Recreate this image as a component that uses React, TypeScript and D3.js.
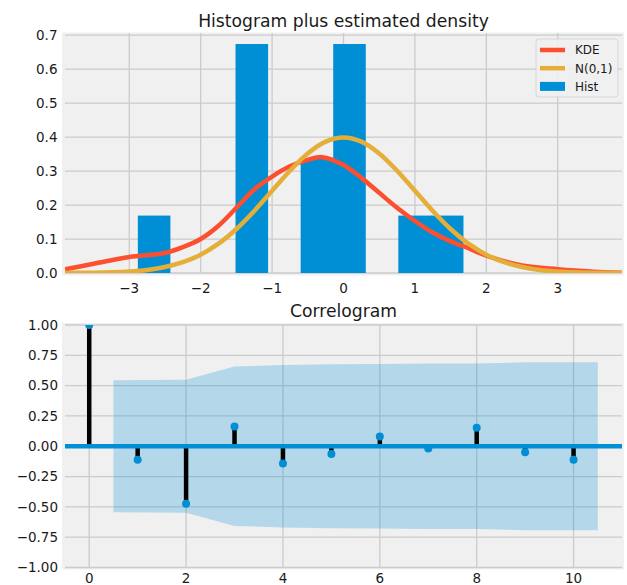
import React from "react";
import * as d3 from "d3";

// ---------- data ----------
const histEdges = [-2.88, -2.424, -1.968, -1.512, -1.056, -0.6, -0.144, 0.312, 0.768, 1.224, 1.68];
const histDensity = [0.169, 0, 0, 0.674, 0, 0.337, 0.674, 0, 0.169, 0.169];

const kdeX = [-3.9, -3.5, -3.0, -2.5, -2.25, -2.0, -1.75, -1.5, -1.25, -1.0, -0.75, -0.5, -0.3, 0.0, 0.25, 0.5, 0.75, 1.0, 1.25, 1.5, 1.75, 2.0, 2.5, 3.0, 3.5, 3.9];
const kdeY = [0.011, 0.027, 0.047, 0.059, 0.076, 0.1, 0.139, 0.192, 0.246, 0.284, 0.314, 0.333, 0.341, 0.318, 0.28, 0.236, 0.192, 0.153, 0.119, 0.093, 0.073, 0.051, 0.022, 0.011, 0.004, 0.001];

const normX = [-4, -3.75, -3.5, -3.25, -3, -2.75, -2.5, -2.25, -2, -1.75, -1.5, -1.25, -1, -0.75, -0.5, -0.25, 0, 0.25, 0.5, 0.75, 1, 1.25, 1.5, 1.75, 2, 2.25, 2.5, 2.75, 3, 3.25, 3.5, 3.75, 4];
const normY = [0.0001, 0.0004, 0.0009, 0.002, 0.0044, 0.0091, 0.0175, 0.0317, 0.054, 0.0863, 0.1295, 0.1826, 0.242, 0.3011, 0.3521, 0.3867, 0.3989, 0.3867, 0.3521, 0.3011, 0.242, 0.1826, 0.1295, 0.0863, 0.054, 0.0317, 0.0175, 0.0091, 0.0044, 0.002, 0.0009, 0.0004, 0.0001];

const legendLabels = ["KDE", "N(0,1)", "Hist"];

const topXTicks = [-3, -2, -1, 0, 1, 2, 3];
const topYTicks = [0, 0.1, 0.2, 0.3, 0.4, 0.5, 0.6, 0.7];

const lags = [0, 1, 2, 3, 4, 5, 6, 7, 8, 9, 10];
const acfValues = [1.0, -0.112, -0.475, 0.163, -0.143, -0.063, 0.08, -0.019, 0.152, -0.05, -0.112];
const confX = [0.5, 2, 3, 4, 5, 6, 7, 8, 9, 10.5];
const confHalf = [0.544, 0.549, 0.657, 0.67, 0.677, 0.679, 0.682, 0.682, 0.692, 0.693];

const botXTicks = [0, 2, 4, 6, 8, 10];
const botYTicks = [-1, -0.75, -0.5, -0.25, 0, 0.25, 0.5, 0.75, 1];

// ---------- style ----------
const FONT = "DejaVu Sans, sans-serif";
const BG = "#f0f0f0";
const GRID = "#cbcbcb";
const BLUE = "#008fd5";
const RED = "#fc4f30";
const YELLOW = "#e5ae38";
const TXT = "#1a1a1a";

const fmtMinus = (s: string) => s.replace("-", "\u2212");

export default function App() {
  // top axes
  const tL = 65, tR = 622, tT = 34, tB = 273;
  const xT = d3.scaleLinear().domain([-3.9, 3.9]).range([tL, tR]);
  const yT = d3.scaleLinear().domain([0, 0.7035]).range([tB, tT]);

  // bottom axes
  const bL = 65, bR = 622, bT = 325, bB = 567.5;
  const xB = d3.scaleLinear().domain([-0.5, 11]).range([bL, bR]);
  const yB = d3.scaleLinear().domain([-1, 1]).range([bB, bT]);

  const kdeLine = d3
    .line<number>()
    .x((_, i) => xT(kdeX[i]))
    .y((d) => yT(d))
    .curve(d3.curveCatmullRom.alpha(0.5))(kdeY) as string;
  const normLine = d3
    .line<number>()
    .x((_, i) => xT(normX[i]))
    .y((d) => yT(d))
    .curve(d3.curveCatmullRom.alpha(0.5))(normY) as string;

  const band = d3
    .area<number>()
    .x((_, i) => xB(confX[i]))
    .y0((d) => yB(-d))
    .y1((d) => yB(d))(confHalf) as string;

  const legX = 536, legY = 39, legW = 82, legH = 58;

  return (
    <svg
      width={627}
      height={585}
      style={{ position: "absolute", left: 0, top: 0, background: "#fff" }}
      fontFamily={FONT}
    >
      <defs>
        <clipPath id="clipTop">
          <rect x={tL} y={tT - 2} width={tR - tL} height={tB - tT + 2} />
        </clipPath>
        <clipPath id="clipBot">
          <rect x={bL} y={bT} width={bR - bL} height={bB - bT} />
        </clipPath>
      </defs>

      {/* ===== Top: histogram ===== */}
      <rect x={tL - 3} y={tT - 1.5} width={tR - tL + 5} height={tB - tT + 4} fill={BG} />
      {topXTicks.map((t) => (
        <line key={"gx" + t} x1={xT(t)} x2={xT(t)} y1={tT - 1} y2={tB} stroke={GRID} strokeWidth={1.3} />
      ))}
      {topYTicks.map((t) => (
        <line key={"gy" + t} x1={tL} x2={tR} y1={yT(t)} y2={yT(t)} stroke={GRID} strokeWidth={1.3} />
      ))}
      <g clipPath="url(#clipTop)">
        {histDensity.map((h, i) =>
          h > 0 ? (
            <rect
              key={"b" + i}
              x={xT(histEdges[i])}
              width={xT(histEdges[i + 1]) - xT(histEdges[i]) + (histDensity[i + 1] > 0 ? 0.8 : 0)}
              y={yT(h)}
              height={yT(0) - yT(h)}
              fill={BLUE}
            />
          ) : null
        )}
        <path d={kdeLine} fill="none" stroke={RED} strokeWidth={4.5} />
        <path d={normLine} fill="none" stroke={YELLOW} strokeWidth={4.5} />
      </g>
      {topXTicks.map((t) => (
        <text key={"tx" + t} x={xT(t)} y={293} fontSize={13.5} textAnchor="middle" fill={TXT}>
          {fmtMinus(String(t))}
        </text>
      ))}
      {topYTicks.map((t) => (
        <text key={"ty" + t} x={57.5} y={yT(t)} dy="0.36em" fontSize={13.5} textAnchor="end" fill={TXT}>
          {t.toFixed(1)}
        </text>
      ))}
      <text x={(tL + tR) / 2} y={26.5} fontSize={17.2} textAnchor="middle" fill={TXT}>
        Histogram plus estimated density
      </text>

      {/* legend */}
      <rect x={legX} y={legY} width={legW} height={legH} rx={3} fill={BG} fillOpacity={0.9} stroke="#d6d6d6" strokeWidth={1} />
      {legendLabels.map((lab, i) => {
        const cy = 50 + i * 18.2;
        return (
          <g key={lab}>
            {i < 2 ? (
              <line x1={540} x2={565} y1={cy} y2={cy} stroke={i === 0 ? RED : YELLOW} strokeWidth={4.5} />
            ) : (
              <rect x={540} y={cy - 4.5} width={25} height={9} fill={BLUE} />
            )}
            <text x={575} y={cy} dy="0.36em" fontSize={12} fill={TXT}>
              {lab}
            </text>
          </g>
        );
      })}

      {/* ===== Bottom: correlogram ===== */}
      <rect x={bL - 3} y={bT - 2} width={bR - bL + 5} height={bB - bT + 4} fill={BG} />
      {botXTicks.map((t) => (
        <line key={"bgx" + t} x1={xB(t)} x2={xB(t)} y1={bT} y2={bB} stroke={GRID} strokeWidth={1.3} />
      ))}
      {botYTicks.map((t) => (
        <line key={"bgy" + t} x1={bL} x2={bR} y1={yB(t)} y2={yB(t)} stroke={GRID} strokeWidth={1.3} />
      ))}
      <g clipPath="url(#clipBot)">
        <path d={band} fill={BLUE} fillOpacity={0.25} />
        {lags.map((l, i) => (
          <line key={"st" + l} x1={xB(l)} x2={xB(l)} y1={yB(0)} y2={yB(acfValues[i])} stroke="#000" strokeWidth={4.5} />
        ))}
        <line x1={bL} x2={bR} y1={yB(0)} y2={yB(0)} stroke={BLUE} strokeWidth={4.5} />
        {lags.map((l, i) => (
          <circle key={"m" + l} cx={xB(l)} cy={yB(acfValues[i])} r={4} fill={BLUE} />
        ))}
      </g>
      {botXTicks.map((t) => (
        <text key={"bx" + t} x={xB(t)} y={582.5} fontSize={13.5} textAnchor="middle" fill={TXT}>
          {String(t)}
        </text>
      ))}
      {botYTicks.map((t) => (
        <text key={"by" + t} x={58} y={yB(t)} dy="0.36em" fontSize={13.5} textAnchor="end" fill={TXT}>
          {fmtMinus(t.toFixed(2))}
        </text>
      ))}
      <text x={(bL + bR) / 2} y={316.5} fontSize={17.2} textAnchor="middle" fill={TXT}>
        Correlogram
      </text>
    </svg>
  );
}
